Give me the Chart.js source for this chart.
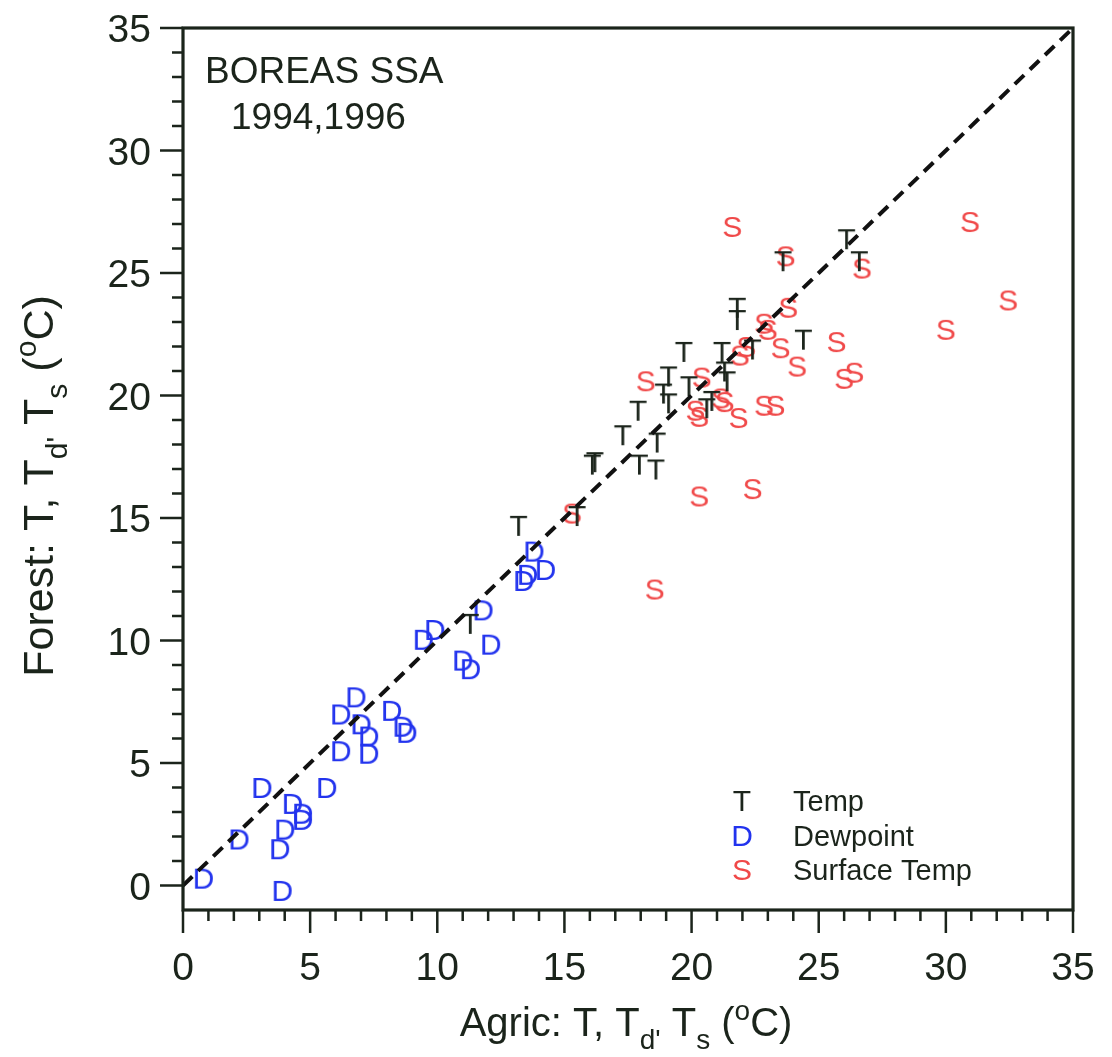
<!DOCTYPE html>
<html>
<head>
<meta charset="utf-8">
<script src="https://cdn.jsdelivr.net/npm/chart.js@4.4.1/dist/chart.umd.min.js"></script>
<style>
html,body{margin:0;padding:0;background:#fff;}
#wrap{position:relative;width:1112px;height:1057px;}
</style>
</head>
<body>
<div id="wrap"><canvas id="chart"></canvas></div>
<script>
// Agric (x) vs Forest (y) temperatures, deg C
const tempX = [11.3, 13.2, 15.5, 16.1, 16.2, 17.3, 17.9, 17.95, 18.6, 18.65, 18.9, 19.1, 19.1, 19.7, 19.9, 20.6, 20.8, 21.2, 21.3, 21.4, 21.8, 21.8, 22.4, 24.4, 23.6, 26.1, 26.6];
const tempY = [10.7, 14.7, 15.1, 17.2, 17.3, 18.4, 19.4, 17.2, 17.0, 18.1, 20.1, 20.8, 19.7, 21.8, 20.4, 19.5, 19.8, 21.8, 21.0, 20.6, 23.6, 23.1, 21.9, 22.3, 25.5, 26.4, 25.5];

const dewX = [0.8, 3.9, 2.2, 3.8, 4.0, 4.3, 4.7, 4.7, 3.1, 5.65, 6.2, 7.3, 7.3, 7.0, 6.2, 6.8, 8.2, 8.65, 8.8, 9.45, 9.9, 11.0, 11.3, 12.1, 11.8, 13.4, 13.55, 13.8, 14.25];
const dewY = [0.3, -0.2, 1.9, 1.5, 2.3, 3.35, 2.95, 2.7, 4.0, 4.0, 5.5, 5.4, 6.1, 6.6, 7.0, 7.7, 7.15, 6.5, 6.25, 10.05, 10.45, 9.2, 8.85, 9.85, 11.25, 12.45, 12.7, 13.65, 12.9];

const surfX = [15.3, 18.55, 18.2, 20.3, 22.4, 20.4, 20.15, 20.3, 21.15, 21.3, 21.85, 22.85, 23.3, 21.9, 22.15, 23.5, 24.15, 22.85, 23.0, 23.8, 23.7, 21.6, 26.7, 25.7, 26.0, 26.4, 30.0, 30.95, 32.45];
const surfY = [15.2, 12.1, 20.6, 15.9, 16.2, 20.75, 19.4, 19.15, 19.9, 19.75, 19.1, 19.6, 19.6, 21.65, 22.0, 21.95, 21.2, 22.95, 22.7, 23.6, 25.7, 26.9, 25.2, 22.2, 20.7, 20.95, 22.7, 27.1, 23.9];

const oneToOne = [0, 35];
const tickValues = [0, 5, 10, 15, 20, 25, 30, 35];
const legendLetters = ["T", "D", "S"];
const legendNames = ["Temp", "Dewpoint", "Surface Temp"];
const seriesColors = ["#1b241b", "#2233ee", "#f04848"];

const FONT = '"Liberation Sans", Arial, Helvetica, sans-serif';
const INK = "#1b241b";

function pts(xs, ys){
  return xs.map((x, i) => ({x: x, y: ys[i]}));
}

// letter used as the point symbol
function letterIcon(ch, color, size){
  const c = document.createElement("canvas");
  c.width = Math.round(size * 1.1);
  c.height = Math.round(size * 1.1);
  const g = c.getContext("2d");
  g.font = size + "px " + FONT;
  g.fillStyle = color;
  g.textAlign = "center";
  g.textBaseline = "alphabetic";
  g.fillText(ch, c.width / 2, c.height / 2 + size * 0.716 / 2);
  return c;
}

// text with sub/superscript pieces
function richWidth(ctx, runs, size){
  let w = 0;
  runs.forEach(r => {
    ctx.font = (r.s ? size * 0.7 : size) + "px " + FONT;
    w += ctx.measureText(r.t).width;
  });
  return w;
}
function drawRich(ctx, runs, x, y, size){
  let cx = x - richWidth(ctx, runs, size) / 2;
  runs.forEach(r => {
    ctx.font = (r.s ? size * 0.7 : size) + "px " + FONT;
    let dy = 0;
    if (r.s === "sub") dy = size * 0.33;
    if (r.s === "sup") dy = -size * 0.4;
    ctx.fillText(r.t, cx, y + dy);
    cx += ctx.measureText(r.t).width;
  });
}

const xTitle = [{t: "Agric: T, T"}, {t: "d'", s: "sub"}, {t: " T"}, {t: "s", s: "sub"}, {t: " ("}, {t: "o", s: "sup"}, {t: "C)"}];
const yTitle = [{t: "Forest: T, T"}, {t: "d'", s: "sub"}, {t: " T"}, {t: "s", s: "sub"}, {t: " ("}, {t: "o", s: "sup"}, {t: "C)"}];

const decor = {
  id: "decor",
  afterDatasetsDraw(chart){
    const ctx = chart.ctx;
    const a = chart.chartArea;
    const xs = chart.scales.x, ys = chart.scales.y;
    ctx.save();
    ctx.strokeStyle = INK;
    ctx.lineWidth = 3.2;
    ctx.strokeRect(a.left, a.top, a.right - a.left, a.bottom - a.top);
    ctx.lineWidth = 2.5;
    ctx.beginPath();
    for (let v = 0; v <= 35; v++){
      const len = v % 5 === 0 ? 23 : 11;
      const px = xs.getPixelForValue(v);
      ctx.moveTo(px, a.bottom);
      ctx.lineTo(px, a.bottom + len);
      const py = ys.getPixelForValue(v);
      ctx.moveTo(a.left, py);
      ctx.lineTo(a.left - len, py);
    }
    ctx.stroke();

    // tick labels
    ctx.fillStyle = INK;
    ctx.font = "39px " + FONT;
    ctx.textBaseline = "alphabetic";
    tickValues.forEach(v => {
      ctx.textAlign = "center";
      ctx.fillText(String(v), xs.getPixelForValue(v), a.bottom + 56 + 14);
      ctx.textAlign = "right";
      ctx.fillText(String(v), a.left - 32, ys.getPixelForValue(v) + 14);
    });

    ctx.textAlign = "left";
    ctx.font = "37px " + FONT;
    ctx.fillText("BOREAS SSA", a.left + 22, a.top + 55);
    ctx.fillText("1994,1996", a.left + 48, a.top + 101);

    // legend
    for (let i = 0; i < legendLetters.length; i++){
      const ly = a.bottom - 110 + i * 34.5;
      ctx.font = "30px " + FONT;
      ctx.textAlign = "center";
      ctx.fillStyle = seriesColors[i];
      ctx.fillText(legendLetters[i], a.left + 559, ly + 11);
      ctx.textAlign = "left";
      ctx.fillStyle = INK;
      ctx.font = "29px " + FONT;
      ctx.fillText(legendNames[i], a.left + 610, ly + 11);
    }

    // axis titles
    ctx.textAlign = "left";
    ctx.fillStyle = INK;
    drawRich(ctx, xTitle, 626, 1036, 40);
    ctx.translate(53, 486);
    ctx.rotate(-Math.PI / 2);
    drawRich(ctx, yTitle, 0, 0, 43);
    ctx.restore();
  }
};

const chart = new Chart(document.getElementById("chart"), {
  type: "scatter",
  data: {
    datasets: [
      {
        label: "1:1",
        type: "line",
        data: pts(oneToOne, oneToOne),
        borderColor: "#111",
        borderWidth: 4,
        borderDash: [13, 8],
        pointRadius: 0,
        fill: false
      },
      {label: legendNames[0], data: pts(tempX, tempY), pointStyle: letterIcon("T", seriesColors[0], 30)},
      {label: legendNames[1], data: pts(dewX, dewY), pointStyle: letterIcon("D", seriesColors[1], 30)},
      {label: legendNames[2], data: pts(surfX, surfY), pointStyle: letterIcon("S", seriesColors[2], 30)}
    ]
  },
  options: {
    responsive: true,
    maintainAspectRatio: false,
    animation: false,
    layout: {padding: {top: 28, right: 39, left: 0, bottom: 0}},
    plugins: {legend: {display: false}, tooltip: {enabled: false}},
    scales: {
      x: {
        type: "linear", min: 0, max: 35,
        grid: {display: false}, border: {display: false},
        ticks: {display: false},
        afterFit: s => { s.height = 147; }
      },
      y: {
        type: "linear", min: -1, max: 35,
        grid: {display: false}, border: {display: false},
        ticks: {display: false},
        afterFit: s => { s.width = 183; }
      }
    }
  },
  plugins: [decor]
});
</script>
</body>
</html>
